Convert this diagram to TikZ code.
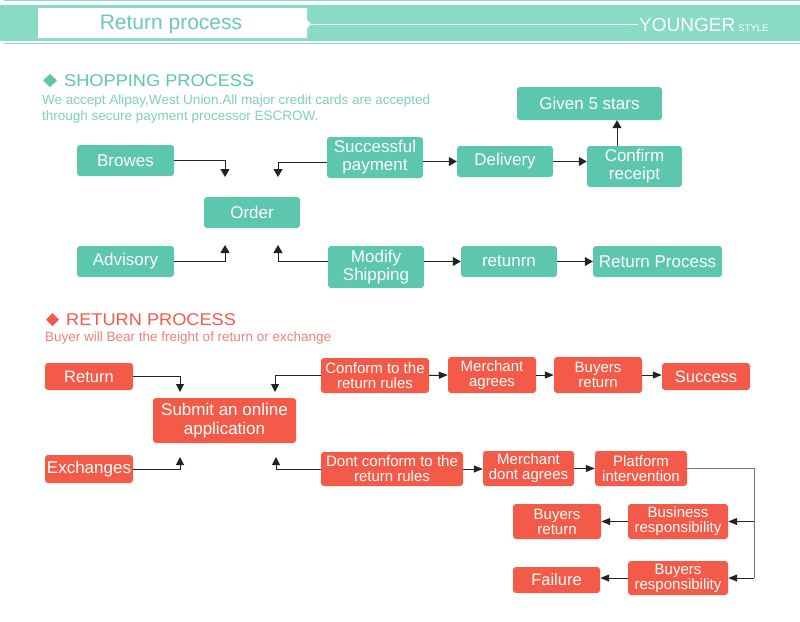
\documentclass[tikz,border=0pt]{standalone}
\usepackage{fontspec}
\setmainfont{Liberation Sans}
\newfontfamily\widefont[FakeStretch=1.07]{Liberation Sans}
\usetikzlibrary{arrows.meta,calc}
\definecolor{teal1}{HTML}{5CC6AE}
\definecolor{band}{HTML}{88DBC4}
\definecolor{tealtxt}{HTML}{6ACBB0}
\definecolor{tealsub}{HTML}{7ECFBA}
\definecolor{red1}{HTML}{F45A48}
\definecolor{redsub}{HTML}{EE8279}
\definecolor{lnk}{HTML}{222222}
\begin{document}
\begin{tikzpicture}[x=1pt,y=-1pt,
  tbox/.style={rectangle, rounded corners=3pt, fill=teal1, text=white, inner sep=0pt, align=center, font=\fontsize{17}{18}\selectfont},
  rbox/.style={rectangle, rounded corners=3pt, fill=red1, text=white, inner sep=0pt, align=center, font=\fontsize{15}{15}\selectfont},
  rbig/.style={rbox, font=\fontsize{16.5}{18}\selectfont},
  conn/.style={draw=lnk, line width=1pt},
  tarr/.style={conn, -{Triangle[width=9pt,length=8pt]}},
  rarr/.style={conn, -{Triangle[width=8pt,length=8pt]}},
  harr/.style={conn, -{Triangle[width=7pt,length=9pt]}},
  gline/.style={draw=black!55, line width=0.9pt},
  sectitle/.style={anchor=west, inner sep=0pt, font=\widefont\fontsize{17}{17}\selectfont},
  secsub/.style={anchor=north west, inner sep=0pt, align=left, font=\fontsize{13.5}{16}\selectfont}
]
\useasboundingbox (0,0) rectangle (800,621);
% ---------- header ----------
\fill[band] (0,5) rectangle (800,41);
\draw[band, line width=1.2pt] (4,0.8) -- (800,0.8);
\draw[band, line width=1.2pt] (4,43.5) -- (800,43.5);
\fill[white] (38,8) -- (307,8) -- (307,20) -- (311,24) -- (307,28) -- (307,38) -- (38,38) -- cycle;
\draw[white, line width=0.9pt] (311,24) -- (638,24);
\node[text=tealtxt, font=\fontsize{21}{21}\selectfont, inner sep=0pt] (htitle) at (171,24) {Return process};
\node[text=white, anchor=west, inner sep=0pt, font=\fontsize{19}{19}\selectfont] (brand) at (639,24.5) {YOUNGER\,{\fontsize{9.5}{10}\selectfont STYLE}};
% ---------- shopping process ----------
\fill[teal1] (50,74) -- (57,80.5) -- (50,87) -- (43,80.5) -- cycle;
\node[sectitle, text=teal1] (st1) at (64,80.5) {SHOPPING PROCESS};
\node[secsub, text=tealsub] (ss1) at (42,94.5) {We accept Alipay,West Union.All major credit cards are accepted\\through secure payment processor ESCROW.};

\node[tbox, minimum width=97pt, minimum height=31pt] (browes) at (125.5,160.5) {Browes};
\node[tbox, minimum width=96pt, minimum height=31pt] (order) at (252,212.5) {Order};
\node[tbox, minimum width=97pt, minimum height=31pt] (advisory) at (125.5,261.5) {Advisory};
\node[tbox, minimum width=96pt, minimum height=41pt] (payment) at (375,157.5) {Successful\\payment};
\node[tbox, minimum width=96pt, minimum height=42pt] (modify) at (376,267) {Modify\\Shipping};
\node[tbox, minimum width=96pt, minimum height=31pt] (delivery) at (505,161.5) {Delivery};
\node[tbox, minimum width=95pt, minimum height=41pt] (confirm) at (634.5,166.5) {Confirm\\receipt};
\node[tbox, minimum width=145pt, minimum height=33pt] (stars) at (589.5,103.5) {Given 5 stars};
\node[tbox, minimum width=96pt, minimum height=31pt] (retunrn) at (509,261.5) {retunrn};
\node[tbox, minimum width=129pt, minimum height=31pt] (retproc) at (657.5,261.5) {Return Process};

\coordinate (oa) at (225,177);
\coordinate (ob) at (278,177);
\coordinate (oc) at (225,245);
\coordinate (od) at (278,245);
\coordinate (cx) at (617,0);
\draw[tarr] (browes.east) -| (oa);
\draw[tarr] ([yshift=-1.5pt]payment.west |- browes.east) -| (ob);
\draw[tarr] (advisory.east) -| (oc);
\draw[tarr] (modify.west |- advisory.east) -| (od);
\draw[tarr] (payment.east |- delivery.west) -- (delivery.west);
\draw[tarr] (delivery.east) -- (confirm.west |- delivery.east);
\draw[tarr] (confirm.north -| cx) -- (stars.south -| cx);
\draw[tarr] (modify.east |- retunrn.west) -- (retunrn.west);
\draw[tarr] (retunrn.east) -- (retproc.west);

% ---------- return process ----------
\fill[red1] (52.5,313) -- (59,319.5) -- (52.5,326) -- (46,319.5) -- cycle;
\node[sectitle, text=red1] (st2) at (66,319.5) {RETURN PROCESS};
\node[secsub, anchor=west, text=redsub] (ss2) at (45,338.5) {Buyer will Bear the freight of return or exchange};

\node[rbig, minimum width=88pt, minimum height=27pt] (ret) at (89,376.5) {Return};
\node[rbig, font=\fontsize{17}{18.5}\selectfont, minimum width=143pt, minimum height=45pt] (submit) at (224.5,420.5) {Submit an online\\application};
\node[rbig, font=\fontsize{17}{18}\selectfont, minimum width=88pt, minimum height=28pt] (exch) at (89,469) {Exchanges};
\node[rbox, minimum width=108pt, minimum height=35pt] (conform) at (375,375.5) {Conform to the\\return rules};
\node[rbox, minimum width=142pt, minimum height=34pt] (dont) at (392,469) {Dont conform to the\\return rules};
\node[rbox, minimum width=88pt, minimum height=36pt] (magree) at (492,375) {Merchant\\agrees};
\node[rbox, minimum width=88pt, minimum height=36pt] (bret) at (598,375) {Buyers\\return};
\node[rbig, minimum width=88pt, minimum height=27pt] (success) at (706,376.5) {Success};
\node[rbox, minimum width=91pt, minimum height=35pt] (mdont) at (528.5,468.5) {Merchant\\dont agrees};
\node[rbox, minimum width=92pt, minimum height=35pt] (platform) at (641,468.5) {Platform\\intervention};
\node[rbox, minimum width=100pt, minimum height=35pt] (business) at (678,521.5) {Business\\responsibility};
\node[rbox, minimum width=88pt, minimum height=35pt] (bret2) at (557,521.5) {Buyers\\return};
\node[rbox, minimum width=100pt, minimum height=34pt] (bresp) at (678,578) {Buyers\\responsibility};
\node[rbig, minimum width=87pt, minimum height=26pt] (failure) at (556.5,580) {Failure};

\coordinate (sa) at (180,392);
\coordinate (sb) at (275,392);
\coordinate (sc) at (180,457);
\coordinate (sd) at (276,457);
\coordinate (vx) at (754,0);
\draw[rarr] (ret.east) -| (sa);
\draw[rarr] (conform.west) -| (sb);
\draw[rarr] (exch.east) -| (sc);
\draw[rarr] (dont.west) -| (sd);
\draw[harr] (conform.east) -- (magree.west);
\draw[harr] (magree.east) -- (bret.west);
\draw[harr] (bret.east) -- (success.west |- bret.east);
\draw[harr] (dont.east) -- (mdont.west |- dont.east);
\draw[harr] (mdont.east) -- (platform.west);
\draw[gline] (platform.east) -| (bresp.east -| vx);
\draw[harr] (business.east -| vx) -- (business.east);
\draw[harr] (bresp.east -| vx) -- (bresp.east);
\draw[harr] (business.west) -- (bret2.east);
\draw[harr] (bresp.west) -- (failure.east |- bresp.west);
\end{tikzpicture}
\end{document}
